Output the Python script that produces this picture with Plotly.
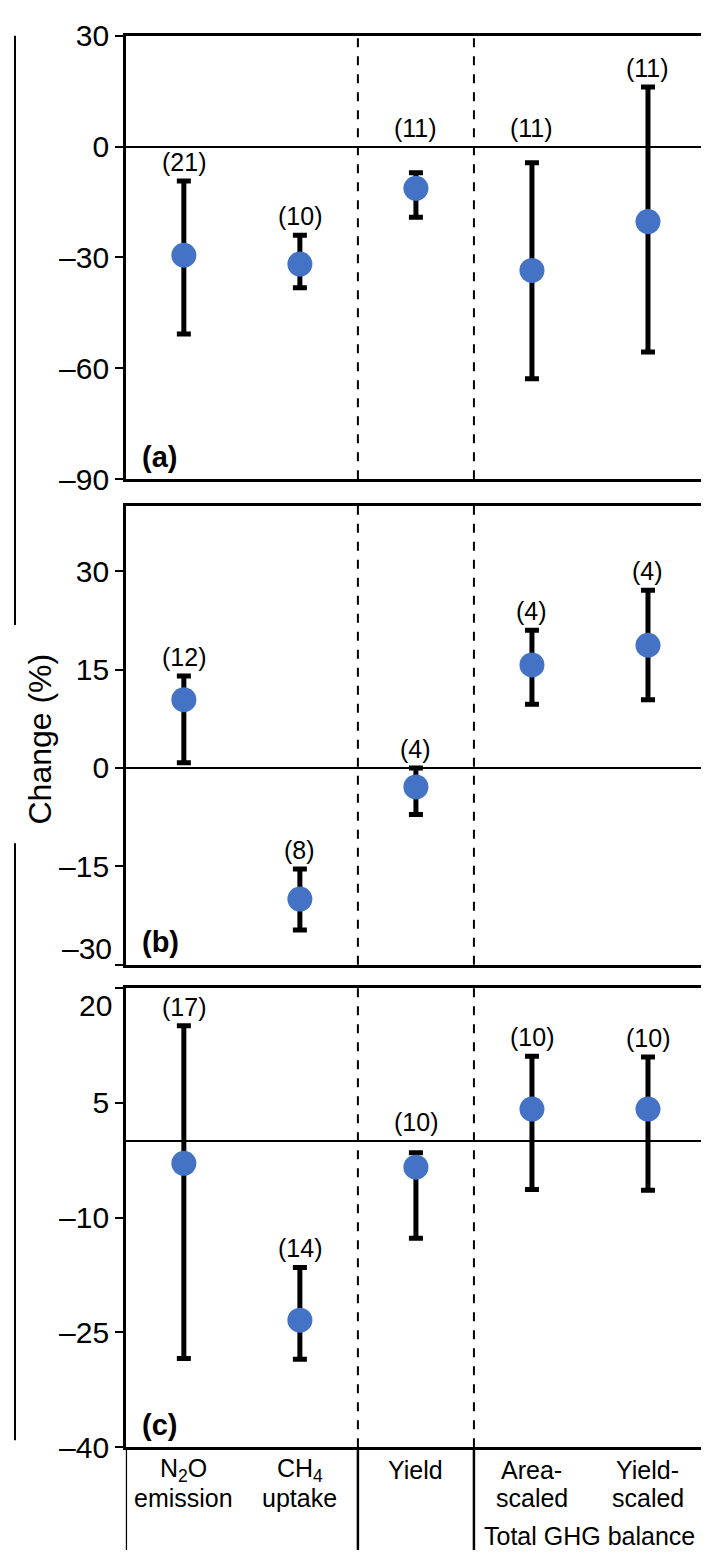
import plotly.graph_objects as go

# categories (x positions 0..4), two label lines each
categories = ['N2O emission', 'CH4 uptake', 'Yield', 'Area-scaled', 'Yield-scaled']
cat_line1 = ['N<sub>2</sub>O', 'CH<sub>4</sub>', 'Yield', 'Area-', 'Yield-']
cat_line2 = ['emission', 'uptake', '', 'scaled', 'scaled']
group_label = 'Total GHG balance'

# panel (a)
a_mean = [-29.4, -31.8, -11.3, -33.5, -20.3]
a_upper = [-9.3, -24.0, -7.1, -4.4, 16.1]
a_lower = [-50.7, -38.2, -19.1, -62.8, -55.6]
a_n = [21, 10, 11, 11, 11]

# panel (b)
b_mean = [10.4, -20.0, -2.9, 15.7, 18.7]
b_upper = [14.0, -15.4, 0.0, 21.0, 27.1]
b_lower = [0.8, -24.7, -7.1, 9.7, 10.4]
b_n = [12, 8, 4, 4, 4]

# panel (c)
c_mean = [-2.9, -23.4, -3.4, 4.2, 4.2]
c_upper = [15.1, -16.5, -1.5, 11.1, 11.0]
c_lower = [-28.4, -28.5, -12.7, -6.3, -6.4]
c_n = [17, 14, 10, 10, 10]

a_ticks = [30, 0, -30, -60, -90]
b_ticks = [30, 15, 0, -15, -30]
c_ticks = [20, 5, -10, -25, -40]

# the page body has an 8px margin, so the figure starts at (8, 8)
OFF = 8
W, H = 709 - OFF, 1567 - OFF
FONT = 'Liberation Sans, Arial, sans-serif'
BLUE = '#4472C4'


def px_x(px):
    return (px - OFF) / W


def px_y(px):
    return 1 - (px - OFF) / H


def dash(v):
    return str(v).replace('-', '\u2013')


def txt(size):
    return dict(family=FONT, size=size, color='black')


panels = [
    # label, mean, upper, lower, n, ticks, range, top px, bottom px
    ('(a)', a_mean, a_upper, a_lower, a_n, a_ticks, [-90, 30], 20, 473),
    ('(b)', b_mean, b_upper, b_lower, b_n, b_ticks, [-30, 40], 500, 969),
    ('(c)', c_mean, c_upper, c_lower, c_n, c_ticks, [-40, 20], 993, 1462),
]
# tick labels the original nudges away from the neighbouring panel
nudged = {('(b)', -30): 16, ('(c)', 20): -17}

fig = go.Figure()
shapes = []
annotations = []
x_dom = [px_x(126), px_x(707)]
xs = list(range(len(categories)))

for i, (lab, mean, up, lo, n, ticks, rng, top, bot) in enumerate(panels, start=1):
    xa = 'x' if i == 1 else f'x{i}'
    ya = 'y' if i == 1 else f'y{i}'
    fig.add_trace(go.Scatter(
        x=xs, y=mean, mode='markers', xaxis=xa, yaxis=ya,
        marker=dict(color=BLUE, size=25),
        error_y=dict(type='data', symmetric=False,
                     array=[u - m for u, m in zip(up, mean)],
                     arrayminus=[m - l for m, l in zip(mean, lo)],
                     color='black', thickness=5, width=7),
        showlegend=False, hoverinfo='skip'))

    ticktext = ['' if (lab, t) in nudged else dash(t) for t in ticks]
    ax = dict(domain=x_dom, range=[-0.5, 4.5], anchor=ya, showticklabels=False,
              ticks='', showgrid=False, zeroline=False, showline=True,
              mirror=True, linecolor='black', linewidth=2.5, fixedrange=True)
    ay = dict(domain=[px_y(bot), px_y(top)], range=rng, anchor=xa,
              tickvals=ticks, ticktext=ticktext, ticklabeloverflow='allow',
              ticks='outside', ticklen=8, tickwidth=2, tickcolor='black',
              tickfont=txt(30),
              showgrid=False, zeroline=True, zerolinecolor='black',
              zerolinewidth=2, showline=True, mirror=True,
              linecolor='black', linewidth=2.5, fixedrange=True)
    fig.update_layout({('xaxis' if i == 1 else f'xaxis{i}'): ax,
                       ('yaxis' if i == 1 else f'yaxis{i}'): ay})

    for t in ticks:
        if (lab, t) in nudged:
            annotations.append(dict(x=px_x(114), y=t, xref='paper', yref=ya,
                                    text=dash(t), showarrow=False, xanchor='right',
                                    yshift=nudged[(lab, t)], font=txt(30)))

    # dashed group dividers
    for xv in (1.5, 2.5):
        shapes.append(dict(type='line', xref=xa, yref=f'{ya} domain',
                           x0=xv, x1=xv, y0=0, y1=1,
                           line=dict(color='black', width=2, dash='dash')))

    # sample sizes above the upper whisker (kept clear of the zero line)
    for xv, u, k in zip(xs, up, n):
        anchor = 0 if -8 < u <= 0 else u
        annotations.append(dict(x=xv, y=anchor, xref=xa, yref=ya, text=f'({k})',
                                showarrow=False, yanchor='middle', yshift=19,
                                font=txt(25)))

    annotations.append(dict(x=0.025, y=0.01, xref=f'{xa} domain', yref=f'{ya} domain',
                            text=f'<b>{lab}</b>', showarrow=False,
                            xanchor='left', yanchor='bottom', font=txt(29)))

# table lines below panel (c)
for xv in (-0.5, 1.5, 2.5, 4.5):
    shapes.append(dict(type='line', xref='x3', yref='paper', x0=xv, x1=xv,
                       y0=0, y1=px_y(1462), line=dict(color='black', width=2.5)))

# category labels
for xv, l1, l2 in zip(xs, cat_line1, cat_line2):
    annotations.append(dict(x=xv, y=px_y(1485), xref='x3', yref='paper', text=l1,
                            showarrow=False, yanchor='middle', font=txt(25)))
    if l2:
        annotations.append(dict(x=xv, y=px_y(1514), xref='x3', yref='paper', text=l2,
                                showarrow=False, yanchor='middle', font=txt(25)))
annotations.append(dict(x=3.5, y=px_y(1553), xref='x3', yref='paper',
                        text=group_label, showarrow=False, yanchor='middle',
                        font=txt(25)))

# shared y-axis title with bracket lines
annotations.append(dict(x=px_x(20), y=px_y(738), xref='paper', yref='paper',
                        text='Change (%)', textangle=-90, showarrow=False,
                        font=txt(32)))
shapes.append(dict(type='line', xref='paper', yref='paper', x0=px_x(15), x1=px_x(15),
                   y0=px_y(20), y1=px_y(622), line=dict(color='black', width=2)))
shapes.append(dict(type='line', xref='paper', yref='paper', x0=px_x(15), x1=px_x(15),
                   y0=px_y(845), y1=px_y(1455), line=dict(color='black', width=2)))

fig.update_layout(width=W, height=H, margin=dict(l=0, r=0, t=0, b=0),
                  plot_bgcolor='white', paper_bgcolor='white',
                  shapes=shapes, annotations=annotations)

fig.write_html('out.html')
